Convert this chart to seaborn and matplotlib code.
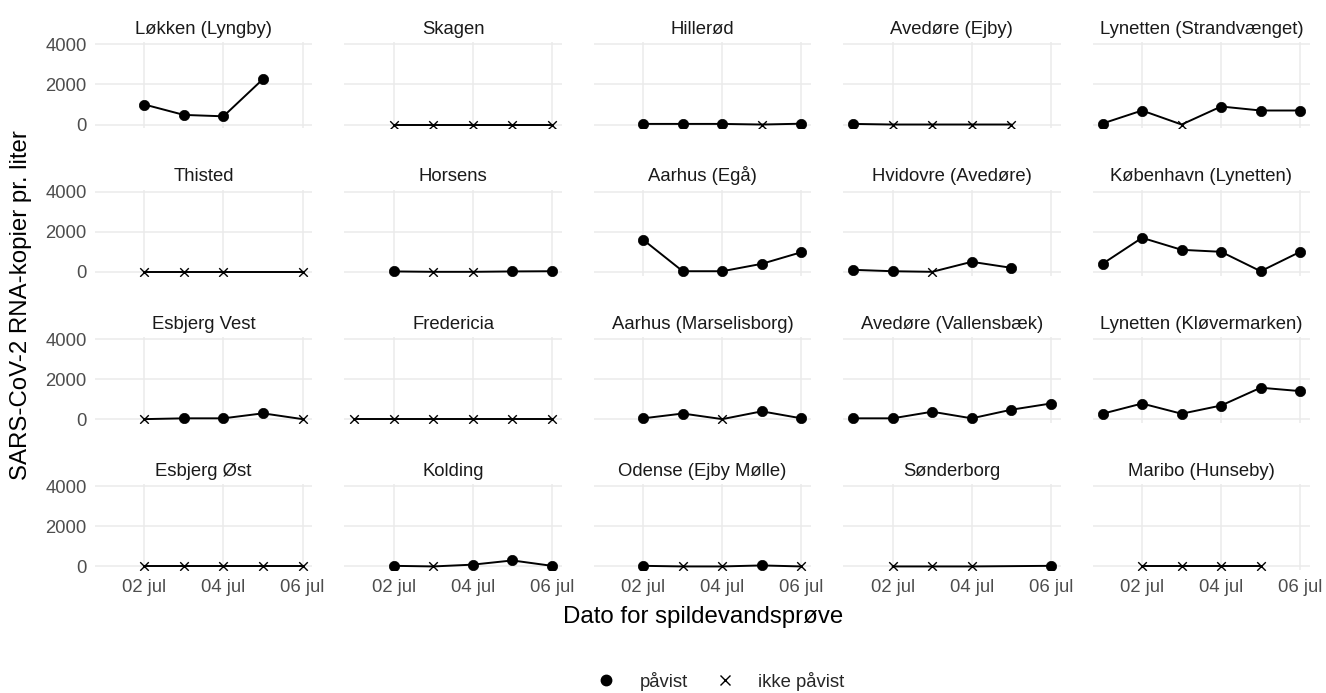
import matplotlib
matplotlib.use('Agg')
import matplotlib.pyplot as plt
import matplotlib.dates as mdates
from matplotlib.lines import Line2D
import numpy as np
import pandas as pd
import seaborn as sns

nan = np.nan

sites = ['Løkken (Lyngby)', 'Skagen', 'Hillerød', 'Avedøre (Ejby)', 'Lynetten (Strandvænget)',
         'Thisted', 'Horsens', 'Aarhus (Egå)', 'Hvidovre (Avedøre)', 'København (Lynetten)',
         'Esbjerg Vest', 'Fredericia', 'Aarhus (Marselisborg)', 'Avedøre (Vallensbæk)', 'Lynetten (Kløvermarken)',
         'Esbjerg Øst', 'Kolding', 'Odense (Ejby Mølle)', 'Sønderborg', 'Maribo (Hunseby)']

dates = pd.to_datetime(['2021-07-01', '2021-07-02', '2021-07-03',
                        '2021-07-04', '2021-07-05', '2021-07-06'])

# RNA copies per liter, one row per site, one column per date
values = [
    [nan, 1000, 480, 410, 2270, nan],
    [nan, 0, 0, 0, 0, 0],
    [nan, 30, 30, 30, 0, 40],
    [30, 0, 0, 0, 0, nan],
    [50, 700, 0, 900, 700, 700],
    [nan, 0, 0, 0, nan, 0],
    [nan, 20, 0, 0, 20, 30],
    [nan, 1600, 30, 30, 400, 980],
    [100, 30, 0, 500, 200, nan],
    [400, 1700, 1100, 1000, 30, 1000],
    [nan, 0, 40, 40, 290, 0],
    [0, 0, 0, 0, 0, 0],
    [nan, 40, 280, 0, 390, 40],
    [40, 40, 370, 40, 470, 780],
    [270, 780, 270, 680, 1570, 1400],
    [nan, 0, 0, 0, 0, 0],
    [nan, 30, 0, 90, 300, 30],
    [nan, 30, 0, 0, 50, 0],
    [nan, 0, 0, 0, nan, 30],
    [nan, 0, 0, 0, 0, nan],
]

# p = påvist, i = ikke påvist, - = no sample
status = [
    '-pppp-', '-iiiii', '-pppip', 'piiii-', 'ppippp',
    '-iii-i', '-piipp', '-ppppp', 'ppipp-', 'pppppp',
    '-ipppi', 'iiiiii', '-ppipp', 'pppppp', 'pppppp',
    '-iiiii', '-pippp', '-piipi', '-iii-p', '-iiii-',
]

labels = {'p': 'påvist', 'i': 'ikke påvist'}

rows = []
for site, vals, st in zip(sites, values, status):
    for d, v, s in zip(dates, vals, st):
        if s != '-':
            rows.append({'site': site, 'date': d, 'value': v, 'status': labels[s]})
df = pd.DataFrame(rows)

sns.set_theme(style='whitegrid')
plt.rcParams['font.family'] = ['Liberation Sans', 'DejaVu Sans']
plt.rcParams['grid.color'] = '#EBEBEB'
plt.rcParams['grid.linewidth'] = 1.1


def draw(data, **kws):
    ax = plt.gca()
    data = data.sort_values('date')
    sns.lineplot(data=data, x='date', y='value', color='black', lw=1.4,
                 estimator=None, ax=ax)
    hit = data[data['status'] == 'påvist']
    miss = data[data['status'] == 'ikke påvist']
    if len(hit):
        sns.scatterplot(data=hit, x='date', y='value', marker='o', s=55,
                        color='black', edgecolor='black', linewidth=0.5, ax=ax, zorder=3)
    if len(miss):
        sns.scatterplot(data=miss, x='date', y='value', marker='x', s=38,
                        color='black', linewidth=1.0, ax=ax, zorder=3)


g = sns.FacetGrid(df, col='site', col_wrap=5, col_order=sites, sharex=True, sharey=True,
                  height=2, aspect=1.5)
g.map_dataframe(draw)
g.set_titles('{col_name}', size=13.3, color='#1A1A1A', pad=6)
g.set_axis_labels('', '')

for ax in g.axes.flat:
    ax.set_ylim(-195, 4110)
    ax.set_yticks([0, 2000, 4000])
    ax.set_xlim(pd.Timestamp('2021-06-30 18:00'), pd.Timestamp('2021-07-06 06:00'))
    ax.xaxis.set_major_locator(mdates.DayLocator(bymonthday=[2, 4, 6]))
    ax.xaxis.set_major_formatter(mdates.DateFormatter('%d jul'))
    ax.tick_params(length=0, labelsize=13.3, labelcolor='#4D4D4D', pad=6)
    for sp in ax.spines.values():
        sp.set_visible(False)
    ax.set_facecolor('white')

fig = g.fig
fig.set_size_inches(13.26, 6.93)
fig.subplots_adjust(left=0.0716, right=0.988, top=0.939, bottom=0.177,
                    wspace=0.147, hspace=0.71)

fig.text(0.53, 0.11, 'Dato for spildevandsprøve', ha='center', va='center',
         fontsize=17.3, color='black')
fig.text(0.016, 0.56, 'SARS-CoV-2 RNA-kopier pr. liter', ha='center', va='center',
         rotation=90, fontsize=17.3, color='black')

handles = [Line2D([], [], marker='o', color='black', ls='', ms=7.5),
           Line2D([], [], marker='x', color='black', ls='', ms=7, mew=1.0)]
fig.legend(handles, ['påvist', 'ikke påvist'], loc='center', bbox_to_anchor=(0.54, 0.017),
           ncol=2, frameon=False, fontsize=13.3, handletextpad=0.8, columnspacing=1.0)

fig.savefig('out.png', dpi=100)
plt.close()
